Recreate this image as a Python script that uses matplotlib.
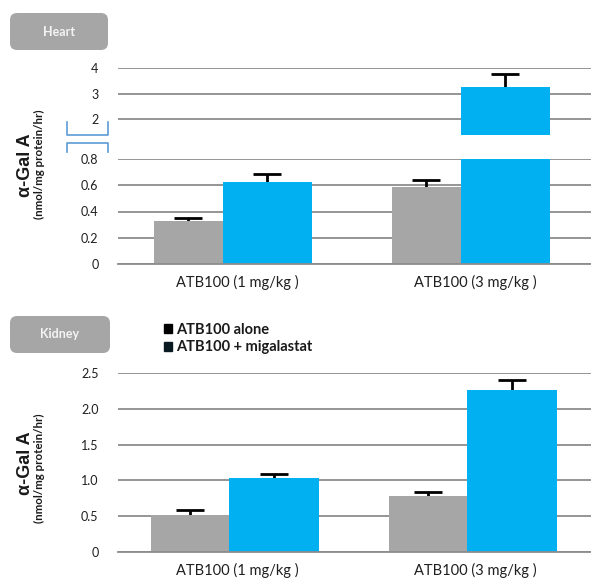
import matplotlib
matplotlib.use('Agg')
import matplotlib.pyplot as plt
import numpy as np
from matplotlib.patches import FancyBboxPatch, Patch
from matplotlib.lines import Line2D

# data
categories = ['ATB100 (1 mg/kg )', 'ATB100 (3 mg/kg )']
series = ['ATB100 alone', 'ATB100 + migalastat']
heart_alone = [0.33, 0.59]
heart_alone_err = [0.02, 0.05]
heart_mig = [0.625, 3.27]
heart_mig_err = [0.06, 0.51]
kidney_alone = [0.52, 0.78]
kidney_alone_err = [0.07, 0.06]
kidney_mig = [1.03, 2.26]
kidney_mig_err = [0.06, 0.14]

heart_low_ticks = [0, 0.2, 0.4, 0.6, 0.8]
heart_low_labels = ['0', '0.2', '0.4', '0.6', '0.8']
heart_high_ticks = [2, 3, 4]
kidney_ticks = [0, 0.5, 1.0, 1.5, 2.0, 2.5]
kidney_labels = ['0', '0.5', '1.0', '1.5', '2.0', '2.5']

GRAY = '#a6a6a6'
BLUE = '#00b0f0'
GRID = '#8c8c8c'
TXT = '#1f1f1f'
FONT = 'Lato'

W, H = 591, 584
fig = plt.figure(figsize=(W / 100, H / 100), dpi=100)


def ax_rect(x0, x1, ytop, ybot):
    return [x0 / W, 1 - ybot / H, (x1 - x0) / W, (ybot - ytop) / H]


def draw_bars(ax, alone, alone_err, mig, mig_err, ga, gw, bw):
    x = np.arange(len(categories))
    ax.bar(x + ga, alone, width=gw, align='edge', color=GRAY, zorder=2)
    ax.bar(x + ga + gw, mig, width=bw, align='edge', color=BLUE, zorder=2)
    # symmetric bars drawn behind the columns, so only the upper half shows
    ek = dict(fmt='none', ecolor='black', elinewidth=2, capsize=10, capthick=2, zorder=1.5)
    ax.errorbar(x + ga + gw / 2, alone, yerr=alone_err, **ek)
    ax.errorbar(x + ga + gw + bw / 2, mig, yerr=mig_err, **ek)
    ax.set_xlim(-0.5, 1.5)
    for s in ['top', 'right', 'left', 'bottom']:
        ax.spines[s].set_visible(False)
    ax.yaxis.grid(True, color=GRID, linewidth=1.3, zorder=0)
    ax.set_axisbelow(True)
    ax.tick_params(length=0, labelsize=9, labelcolor=TXT)


# ---- Heart (broken axis) ----
ax_hi = fig.add_axes(ax_rect(118, 594, 68, 135))
ax_lo = fig.add_axes(ax_rect(118, 594, 159, 264))
for ax in (ax_hi, ax_lo):
    draw_bars(ax, heart_alone, heart_alone_err, heart_mig, heart_mig_err, -0.35, 0.29, 0.375)
ax_hi.set_ylim(1.373, 4)
ax_hi.set_yticks(heart_high_ticks)
ax_hi.set_yticklabels([str(t) for t in heart_high_ticks], fontfamily=FONT)
ax_hi.set_xticks([])
ax_lo.set_ylim(0, 0.8)
ax_lo.set_yticks(heart_low_ticks)
ax_lo.set_yticklabels(heart_low_labels, fontfamily=FONT)
ax_lo.spines['bottom'].set_visible(True)
ax_lo.spines['bottom'].set_color(GRID)
ax_lo.spines['bottom'].set_linewidth(1.3)
ax_lo.set_xticks(np.arange(len(categories)))
ax_lo.set_xticklabels(categories, fontfamily=FONT, fontsize=10.5, color=TXT)
ax_lo.tick_params(axis='x', pad=8)
ax_lo.tick_params(axis='y', pad=14)
ax_hi.tick_params(axis='y', pad=14)

# break brackets
bc = '#5b9bd5'
for xs, ys in [([67, 67, 108, 108], [122, 135, 135, 122]),
               ([67, 67, 108, 108], [152, 143, 143, 152])]:
    fig.add_artist(Line2D([v / W for v in xs], [1 - v / H for v in ys],
                          color=bc, linewidth=1.2))

# ---- Kidney ----
ax_k = fig.add_axes(ax_rect(118, 594, 373, 552))
draw_bars(ax_k, kidney_alone, kidney_alone_err, kidney_mig, kidney_mig_err, -0.36, 0.325, 0.38)
ax_k.set_ylim(0, 2.5)
ax_k.set_yticks(kidney_ticks)
ax_k.set_yticklabels(kidney_labels, fontfamily=FONT)
ax_k.spines['bottom'].set_visible(True)
ax_k.spines['bottom'].set_color(GRID)
ax_k.spines['bottom'].set_linewidth(1.3)
ax_k.set_xticks(np.arange(len(categories)))
ax_k.set_xticklabels(categories, fontfamily=FONT, fontsize=10.5, color=TXT)
ax_k.tick_params(axis='x', pad=8)
ax_k.tick_params(axis='y', pad=14)

# y labels
for yc, yc2 in [(165, 164), (463, 468)]:
    fig.text(25 / W, 1 - yc / H, 'α-Gal A', rotation=90, ha='center', va='center',
             fontsize=13, fontweight='bold', family=['Liberation Sans Narrow', 'Liberation Sans'],
             color='#1a1a1a')
    fig.text(39 / W, 1 - yc2 / H, '(nmol/mg protein/hr)', rotation=90, ha='center',
             va='center', fontsize=8.3, fontweight='bold', family=FONT, color='#1a1a1a')

# panel tags
for (x0, x1, y0, y1), name in [((10, 108, 13, 50), 'Heart'), ((10, 110, 316, 353), 'Kidney')]:
    box = FancyBboxPatch((x0 / W, 1 - y1 / H), (x1 - x0) / W, (y1 - y0) / H,
                         boxstyle='round,pad=0,rounding_size=0.012',
                         transform=fig.transFigure, facecolor=GRAY, edgecolor='none')
    fig.add_artist(box)
    fig.text((x0 + x1) / 2 / W, 1 - (y0 + y1) / 2 / H, name, ha='center', va='center',
             color='#f4f4f4', fontsize=9, fontweight='bold', family=FONT)

# legend
handles = [Patch(facecolor='black', edgecolor='black'), Patch(facecolor='#0a1a22', edgecolor='#0a1a22')]
leg = fig.legend(handles, series, loc='upper left', bbox_to_anchor=(158 / W, 1 - 317 / H),
                 frameon=False, handlelength=0.55, handleheight=0.55, handletextpad=0.3,
                 labelspacing=0.25, borderaxespad=0,
                 prop={'family': FONT, 'weight': 'bold', 'size': 10.5})
for t in leg.get_texts():
    t.set_color('#1a1a1a')

fig.savefig('out.png', dpi=100)
